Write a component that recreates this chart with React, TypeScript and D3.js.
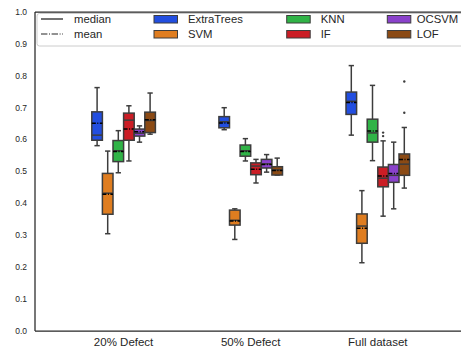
import * as d3 from "d3";

const categories = ["20% Defect", "50% Defect", "Full dataset"];
const methods = ["ExtraTrees", "SVM", "KNN", "IF", "OCSVM", "LOF"];
const colors = ["#224ee0", "#df7d20", "#30b347", "#cb1d25", "#8a42cb", "#8b4a14"];

// per category: [whisker low, q1, median, mean, q3, whisker high]
const extraTrees = [
  [0.581, 0.598, 0.614, 0.651, 0.687, 0.763],
  [0.631, 0.637, 0.656, 0.652, 0.672, 0.7],
  [0.614, 0.679, 0.72, 0.716, 0.749, 0.832],
];
const svm = [
  [0.305, 0.366, 0.432, 0.429, 0.494, 0.564],
  [0.287, 0.332, 0.347, 0.345, 0.379, 0.383],
  [0.214, 0.275, 0.329, 0.322, 0.367, 0.44],
];
const knn = [
  [0.496, 0.531, 0.565, 0.563, 0.597, 0.628],
  [0.533, 0.548, 0.565, 0.563, 0.583, 0.603],
  [0.534, 0.592, 0.621, 0.627, 0.664, 0.77],
];
const iforest = [
  [0.533, 0.598, 0.661, 0.633, 0.683, 0.706],
  [0.464, 0.49, 0.517, 0.507, 0.527, 0.538],
  [0.36, 0.452, 0.479, 0.486, 0.514, 0.596],
];
const ocsvm = [
  [0.592, 0.611, 0.62, 0.625, 0.633, 0.643],
  [0.498, 0.511, 0.524, 0.522, 0.538, 0.553],
  [0.383, 0.466, 0.488, 0.494, 0.522, 0.592],
];
const lof = [
  [0.617, 0.622, 0.66, 0.662, 0.686, 0.746],
  [0.489, 0.489, 0.505, 0.503, 0.515, 0.542],
  [0.448, 0.488, 0.523, 0.538, 0.555, 0.638],
];
const stats = [extraTrees, svm, knn, iforest, ocsvm, lof];

// outliers: [method index, category index, value]
const fliers = [
  [3, 2, 0.622],
  [3, 2, 0.611],
  [5, 2, 0.782],
  [5, 2, 0.684],
];

const yTicks = [0, 0.1, 0.2, 0.3, 0.4, 0.5, 0.6, 0.7, 0.8, 0.9, 1.0];

const width = 461;
const height = 349;
const left = 35;
const top = 12;
const bottom = 331;
const font = "'Liberation Sans', Arial, sans-serif";
const ink = "#262626";
const edge = "#3d3d3d";

export default function App() {
  const x = d3.scalePoint().domain(categories).range([123.6, 377.8]);
  const hue = d3.scaleBand().domain(methods).range([-31.8, 31.8]).padding(0);
  const y = d3.scaleLinear().domain([0, 1]).range([bottom, top]);
  const bw = hue.bandwidth();

  return (
    <svg
      width={width}
      height={height}
      style={{ position: "absolute", left: 0, top: 0 }}
      fontFamily={font}
    >
      <rect width={width} height={height} fill="#fff" />
      {yTicks.map((t) => (
        <text
          key={t}
          x={27}
          y={y(t)}
          dy="0.33em"
          textAnchor="end"
          fontSize={8.5}
          fill={ink}
        >
          {t.toFixed(1)}
        </text>
      ))}
      {categories.map((c) => (
        <text key={c} x={x(c)} y={346} textAnchor="middle" fontSize={11.5} fill={ink}>
          {c}
        </text>
      ))}

      {methods.map((m, mi) =>
        categories.map((c, ci) => {
          const [lo, q1, med, mean, q3, hi] = stats[mi][ci];
          const x0 = (x(c) as number) + (hue(m) as number);
          const cx = x0 + bw / 2;
          return (
            <g key={m + c}>
              <line x1={cx} x2={cx} y1={y(q3)} y2={y(hi)} stroke={edge} strokeWidth={1.5} />
              <line x1={cx} x2={cx} y1={y(q1)} y2={y(lo)} stroke={edge} strokeWidth={1.5} />
              <line x1={cx - bw / 4} x2={cx + bw / 4} y1={y(hi)} y2={y(hi)} stroke={edge} strokeWidth={1.5} />
              <line x1={cx - bw / 4} x2={cx + bw / 4} y1={y(lo)} y2={y(lo)} stroke={edge} strokeWidth={1.5} />
              <rect
                x={x0}
                y={y(q3)}
                width={bw}
                height={y(q1) - y(q3)}
                fill={colors[mi]}
                stroke={edge}
                strokeWidth={1.5}
              />
              <line x1={x0} x2={x0 + bw} y1={y(med)} y2={y(med)} stroke={edge} strokeWidth={1.5} />
              <line
                x1={x0}
                x2={x0 + bw}
                y1={y(mean)}
                y2={y(mean)}
                stroke="#000"
                strokeWidth={1.5}
                strokeDasharray="4,1.5,1,1.5"
              />
            </g>
          );
        })
      )}

      {fliers.map(([mi, ci, v], i) => (
        <circle
          key={i}
          cx={(x(categories[ci]) as number) + (hue(methods[mi]) as number) + bw / 2}
          cy={y(v)}
          r={1.2}
          fill={edge}
        />
      ))}

      <line x1={left} x2={width} y1={top} y2={top} stroke={ink} strokeWidth={1.25} />
      <line x1={left} x2={width} y1={bottom} y2={bottom} stroke={ink} strokeWidth={1.25} />
      <line x1={left} x2={left} y1={top} y2={bottom} stroke={ink} strokeWidth={1.25} />

      <g>
        <rect
          x={37}
          y={13.5}
          width={450}
          height={32.5}
          rx={2.5}
          fill="#fff"
          fillOpacity={0.8}
          stroke="#cccccc"
          strokeWidth={1}
        />
        <line x1={41} x2={63} y1={19} y2={19} stroke={ink} strokeWidth={1.3} />
        <text x={74} y={23} fontSize={11.3} fill={ink}>median</text>
        <line
          x1={41}
          x2={63}
          y1={34}
          y2={34}
          stroke={ink}
          strokeWidth={1.2}
          strokeDasharray="6.4,1.6,1,1.6"
        />
        <text x={74} y={38} fontSize={11.3} fill={ink}>mean</text>
        {methods.map((m, mi) => {
          const col = Math.floor(mi / 2);
          const row = mi % 2;
          const px = [154, 286.7, 387.3][col];
          const tx = [188, 320.7, 416.7][col];
          const py = row === 0 ? 19 : 34;
          return (
            <g key={m}>
              <rect
                x={px}
                y={py - 3.5}
                width={23.5}
                height={7.5}
                fill={colors[mi]}
                stroke={edge}
                strokeWidth={1}
              />
              <text x={tx} y={py + 4} fontSize={11.3} fill={ink}>
                {m}
              </text>
            </g>
          );
        })}
      </g>
    </svg>
  );
}
